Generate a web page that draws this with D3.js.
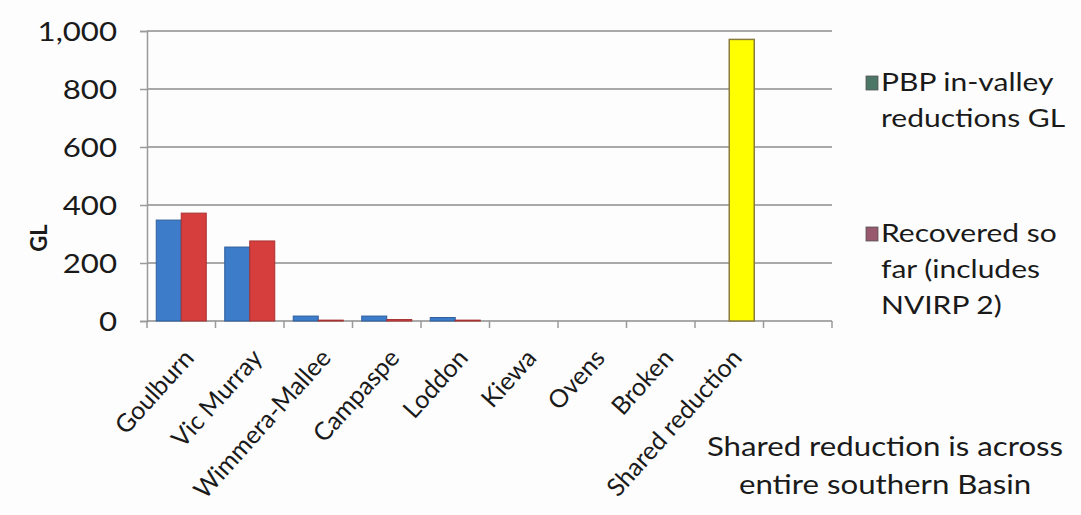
<!DOCTYPE html>
<html>
<head>
<meta charset="utf-8">
<script src="https://cdn.jsdelivr.net/npm/d3@7"></script>
<style>
  body { margin: 0; background: #fff; }
  text { font-family: Lato, "Open Sans", sans-serif; fill: #1a1a1a; }
</style>
</head>
<body>
<svg id="chart"></svg>
<script>
const width = 1081;
const height = 515;

// datos
const categories = ["Goulburn", "Vic Murray", "Wimmera-Mallee", "Campaspe", "Loddon",
                    "Kiewa", "Ovens", "Broken", "Shared reduction", ""];
const pbpReductions = [348, 255, 17, 17, 12, 0, 0, 0, 0, 0];
const recovered = [372, 276, 3, 5, 3, 0, 0, 0, 971, 0];
const yTicks = [0, 200, 400, 600, 800, 1000];
const legendLabels = [["PBP in-valley", "reductions GL"], ["Recovered so", "far (includes", "NVIRP 2)"]];
const noteLines = ["Shared reduction is across", "entire southern Basin"];

// el grafico original esta estirado en horizontal
const stretch = 1.2;

const svg = d3.select("#chart")
    .attr("width", width)
    .attr("height", height);

svg.append("rect").attr("width", width).attr("height", height).attr("fill", "#fdfdfd");

const plot = { left: 147, right: 832, top: 31, bottom: 321 };

const x = d3.scaleBand()
    .domain(categories.map((d, i) => i))
    .range([plot.left, plot.right])
    .paddingInner(0.27)
    .paddingOuter(0.135);

const xStep = (plot.right - plot.left) / categories.length;

const y = d3.scaleLinear()
    .domain([0, 1000])
    .range([plot.bottom, plot.top]);

// lineas de cuadricula
svg.append("g")
    .selectAll("line")
    .data(yTicks.filter(d => d > 0))
    .enter()
    .append("line")
    .attr("x1", plot.left)
    .attr("x2", plot.right)
    .attr("y1", d => y(d))
    .attr("y2", d => y(d))
    .attr("stroke", "#8c8c8c")
    .attr("stroke-width", 1.6);

// eje y
const yAxis = svg.append("g")
    .attr("transform", `translate(${plot.left},0)`)
    .call(d3.axisLeft(y).tickValues(yTicks).tickSize(7).tickFormat(d3.format(",")));
yAxis.select(".domain").attr("stroke", "#9a9a9a").attr("stroke-width", 1.5);
yAxis.selectAll(".tick line").attr("stroke", "#9a9a9a").attr("stroke-width", 1.5);
yAxis.selectAll(".tick text")
    .attr("x", 0)
    .attr("dy", "0.36em")
    .attr("transform", `translate(-30,0) scale(${stretch},1)`)
    .attr("font-size", 26)
    .attr("font-family", "Lato, 'Open Sans', sans-serif")
    .attr("fill", "#1a1a1a");

svg.append("text")
    .attr("transform", `translate(47,238) rotate(-90)`)
    .attr("text-anchor", "middle")
    .attr("font-size", 22)
    .attr("font-weight", "bold")
    .text("GL");

// eje x
svg.append("line")
    .attr("x1", plot.left).attr("x2", plot.right)
    .attr("y1", plot.bottom).attr("y2", plot.bottom)
    .attr("stroke", "#8c8c8c").attr("stroke-width", 1.6);

svg.append("g")
    .selectAll("line")
    .data(d3.range(categories.length + 1))
    .enter()
    .append("line")
    .attr("x1", i => plot.left + i * xStep)
    .attr("x2", i => plot.left + i * xStep)
    .attr("y1", plot.bottom)
    .attr("y2", plot.bottom + 7)
    .attr("stroke", "#9a9a9a")
    .attr("stroke-width", 1.5);

svg.append("g")
    .selectAll("text")
    .data(categories)
    .enter()
    .append("text")
    .attr("transform", (d, i) => `translate(${x(i) + x.bandwidth() / 2 + 14},${plot.bottom + 38}) rotate(-48)`)
    .attr("text-anchor", "end")
    .attr("font-size", 25)
    .text(d => d);

// barras
const barW = x.bandwidth() / 2;

svg.append("g")
    .selectAll("rect")
    .data(pbpReductions)
    .enter()
    .append("rect")
    .attr("x", (d, i) => x(i))
    .attr("y", d => y(d))
    .attr("width", barW)
    .attr("height", d => plot.bottom - y(d))
    .attr("fill", "#3d7cc9")
    .attr("stroke", d => d > 0 ? "#2f5f9c" : "none")
    .attr("stroke-width", 1);

svg.append("g")
    .selectAll("rect")
    .data(recovered)
    .enter()
    .append("rect")
    .attr("x", (d, i) => x(i) + barW)
    .attr("y", d => y(d))
    .attr("width", barW)
    .attr("height", d => plot.bottom - y(d))
    .attr("fill", (d, i) => categories[i] === "Shared reduction" ? "#ffff00" : "#d63e3e")
    .attr("stroke", (d, i) => d <= 0 ? "none" : categories[i] === "Shared reduction" ? "#8a7c3a" : "#a83232")
    .attr("stroke-width", (d, i) => categories[i] === "Shared reduction" ? 1.5 : 1);

// leyenda
const legendColors = ["#4c7767", "#98586e"];
const legendY = [76, 227];
legendLabels.forEach((lines, k) => {
    svg.append("rect")
        .attr("x", 866).attr("y", legendY[k])
        .attr("width", 12).attr("height", 14)
        .attr("fill", legendColors[k])
        .attr("stroke", "#555").attr("stroke-width", 0.8);
    svg.append("g").selectAll("text")
        .data(lines)
        .enter()
        .append("text")
        .attr("transform", (d, i) => `translate(881,${legendY[k] + 15 + i * 36}) scale(${stretch},1)`)
        .attr("font-size", 25)
        .text(d => d);
});

// nota
svg.append("g").selectAll("text")
    .data(noteLines)
    .enter()
    .append("text")
    .attr("transform", (d, i) => `translate(885,${456 + i * 38}) scale(${stretch},1)`)
    .attr("text-anchor", "middle")
    .attr("font-size", 26)
    .text(d => d);
</script>
</body>
</html>
